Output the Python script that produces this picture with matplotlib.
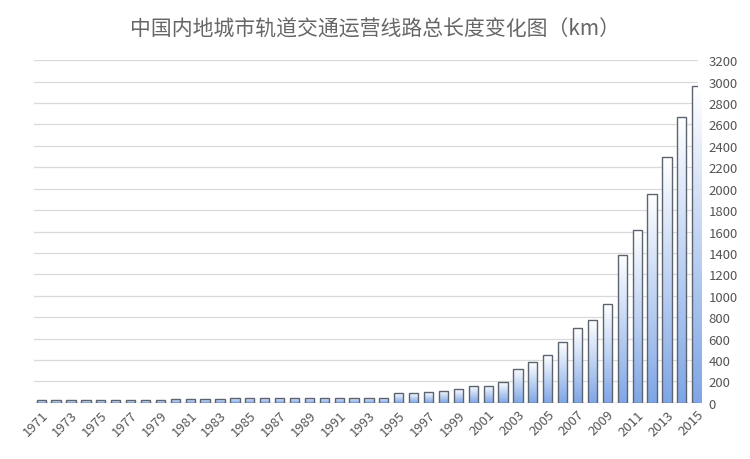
import numpy as np
import matplotlib.pyplot as plt
from matplotlib.colors import LinearSegmentedColormap

plt.rcParams['font.family'] = ['Noto Sans CJK SC', 'DejaVu Sans']

years = list(range(1971, 2016))
lengths = [24, 24, 24, 24, 24, 24, 24, 24, 24,
           40, 40, 40, 40,
           50, 50, 50, 50, 50, 50, 50, 50, 50, 50, 50,
           90, 90, 100, 115, 125, 160, 160, 195, 320, 380, 445, 570,
           700, 775, 920, 1385, 1615, 1955, 2295, 2665, 2960]
title = '中国内地城市轨道交通运营线路总长度变化图（km）'

fig = plt.figure(figsize=(7.5, 4.6), dpi=100)
ax = fig.add_axes([0.045, 0.122, 0.885, 0.745])

grad = LinearSegmentedColormap.from_list('g', ['#ffffff', '#7fa6e6'])
x = np.arange(len(years))
bars = ax.bar(x, lengths, width=0.62, facecolor='none', edgecolor='#5b6470', linewidth=1.0, zorder=3)
img = np.linspace(0, 1, 100).reshape(-1, 1)
for b in bars:
    bx, by = b.get_x(), b.get_y()
    im = ax.imshow(img, cmap=grad, aspect='auto', origin='upper',
                   extent=[bx, bx + b.get_width(), by, by + b.get_height()], zorder=2)
    im.set_clip_path(b)

ax.set_xlim(-0.5, len(years) - 1 + 0.05)
ax.set_ylim(0, 3200)
ax.set_yticks(range(0, 3201, 200))
ax.yaxis.tick_right()
ax.tick_params(axis='y', length=0, labelsize=9.5, colors='#555555', pad=8)
ax.set_xticks(x[::2])
ax.set_xticklabels([str(y) for y in years[::2]], rotation=45, ha='right',
                   rotation_mode='anchor', fontsize=9.5, color='#555555')
ax.tick_params(axis='x', length=0)
ax.grid(axis='y', color='#d9d9d9', linewidth=0.9, zorder=0)
for s in ax.spines.values():
    s.set_visible(False)
ax.axhline(0, color='#c8c8c8', linewidth=1, zorder=1)

fig.text(0.5, 0.935, title, ha='center', va='center', fontsize=15, color='#666666')
fig.savefig('out.png', dpi=100)
